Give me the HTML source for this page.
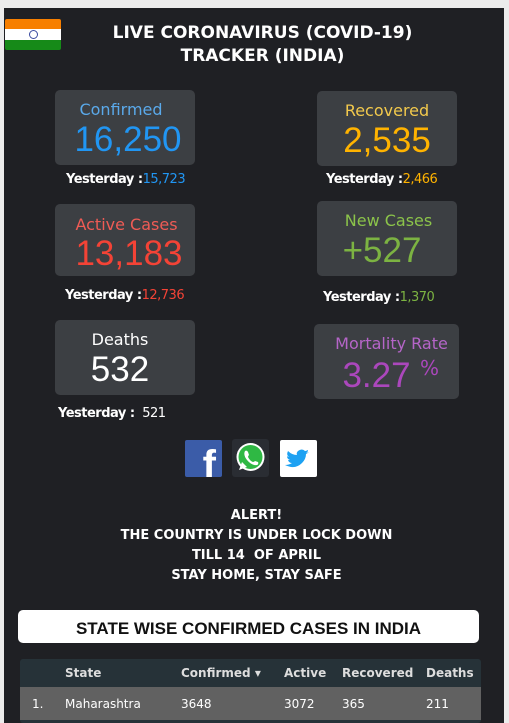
<!DOCTYPE html>
<html><head><meta charset="utf-8"><style>
body{margin:0;width:509px;height:723px;background:#ececec;overflow:hidden;font-family:"DejaVu Sans","Liberation Sans",sans-serif;}
#panel{position:absolute;left:4px;top:8px;width:500px;height:715px;background:#1f2024;}
.a{position:absolute;}
.box{position:absolute;background:#3c3f43;border-radius:5px;text-align:center;}
.lbl{position:absolute;left:0;right:0;font-size:16px;}
.num{position:absolute;left:0;right:0;font-size:35px;font-family:"Liberation Sans",sans-serif;}
.y{position:absolute;font-size:13px;color:#fff;font-weight:bold;letter-spacing:-0.5px;white-space:nowrap}
.y span{font-weight:normal}
.t{position:absolute;left:0;width:509px;text-align:center;color:#fff;font-weight:bold;}
th,td{text-align:left;padding:0;font-size:12px;}
</style></head><body>
<div id="panel"></div>
<div class="a" style="left:5px;top:19px;width:56px;height:31px;border-radius:2px;overflow:hidden">
<div style="height:10px;background:#f77f00"></div><div style="height:11px;background:#fff;position:relative"><div style="position:absolute;left:24px;top:1px;width:9px;height:9px;border:1px solid #3b4ba0;border-radius:50%;box-sizing:border-box"></div></div><div style="height:10px;background:#168a18"></div></div>
<div class="t" style="top:22px;font-size:17px;line-height:23px;left:8px">LIVE CORONAVIRUS (COVID-19)<br>TRACKER (INDIA)</div>

<div class="box" style="left:55px;top:90px;width:140px;height:75px">
<div class="lbl" style="top:10px;color:#5aa9ea;left:-8px">Confirmed</div><div class="num" style="top:30px;color:#2196f3;left:6px">16,250</div></div>
<div class="y" style="left:66px;top:172px">Yesterday :<span style="color:#2196f3">15,723</span></div>

<div class="box" style="left:317px;top:91px;width:140px;height:75px">
<div class="lbl" style="top:10px;color:#f2c94c">Recovered</div><div class="num" style="top:30px;color:#ffb300">2,535</div></div>
<div class="y" style="left:326px;top:172px">Yesterday :<span style="color:#ffb300">2,466</span></div>

<div class="box" style="left:55px;top:204px;width:140px;height:72px">
<div class="lbl" style="top:11px;color:#ef5b55;left:3px">Active Cases</div><div class="num" style="top:30px;color:#f44336;left:8px">13,183</div></div>
<div class="y" style="left:65px;top:288px">Yesterday :<span style="color:#f44336">12,736</span></div>

<div class="box" style="left:317px;top:201px;width:140px;height:75px">
<div class="lbl" style="top:10px;color:#8bc34a;left:3px">New Cases</div><div class="num" style="top:30px;color:#7cb342;left:-10px">+527</div></div>
<div class="y" style="left:323px;top:290px">Yesterday :<span style="color:#7cb342">1,370</span></div>

<div class="box" style="left:55px;top:320px;width:140px;height:75px">
<div class="lbl" style="top:10px;color:#fff;left:-10px">Deaths</div><div class="num" style="top:30px;color:#fff;left:-10px">532</div></div>
<div class="y" style="left:58px;top:406px">Yesterday : <span>&nbsp;521</span></div>

<div class="box" style="left:314px;top:324px;width:145px;height:75px">
<div class="lbl" style="top:10px;color:#b565c8;left:10px">Mortality Rate</div><div class="num" style="top:32px;color:#ab47bc;left:-20px">3.27</div><div class="a" style="left:106px;top:32px;font-size:20px;color:#ab47bc">%</div></div>

<div class="a" style="left:185px;top:440px;width:37px;height:37px;background:#3b5ca8;border-radius:2px;color:#fff;font:bold 40px 'Liberation Sans',sans-serif;text-align:right;line-height:50px;overflow:hidden;box-sizing:border-box;padding-right:6px">f</div>
<div class="a" style="left:232px;top:439px;width:37px;height:38px;background:#2a2d33;border-radius:3px">
<svg width="37" height="38"><circle cx="18.5" cy="18" r="14" fill="#fff"/><circle cx="18.5" cy="18" r="12" fill="#2fb844"/><path d="M7 31 L10 23 L15 28Z" fill="#fff"/><path d="M13 12 q2 -1 3 1 l1 3 q-1 1 -1 2 q2 4 5 5 q1 0 2 -1 l3 1 q1 2 -1 3 q-5 1 -10 -5 q-4 -5 -2 -9z" fill="#fff"/></svg></div>
<div class="a" style="left:280px;top:440px;width:37px;height:37px;background:#fff;border-radius:2px">
<svg width="37" height="37"><path d="M29 12 q-2 1 -3 1 q2 -1 2 -3 q-2 1 -3 1 q-3 -3 -7 0 q-2 2 -1 4 q-5 0 -9 -4 q-2 4 1 6 q-1 0 -2 -1 q0 3 3 4 q-1 0 -2 0 q1 3 4 3 q-3 2 -7 2 q10 5 17 -2 q4 -4 4 -9 q2 -1 3 -2z" fill="#1da1f2"/></svg></div>

<div class="t" style="top:506px;font-size:13px;line-height:20px;left:2px">ALERT!<br>THE COUNTRY IS UNDER LOCK DOWN<br>TILL 14&nbsp; OF APRIL<br>STAY HOME, STAY SAFE</div>

<div class="a" style="left:18px;top:610px;width:461px;height:33px;background:#fff;border-radius:5px;text-align:center;font:bold 17px 'Liberation Sans',sans-serif;line-height:38px;color:#111">STATE WISE CONFIRMED CASES IN INDIA</div>

<div class="a" style="left:20px;top:659px;width:461px;height:64px;background:#263238;border-radius:3px;overflow:hidden">
<table style="border-collapse:collapse;width:461px;color:#fff">
<tr style="height:28px;font-weight:bold;font-size:12px;color:#ddd"><th style="width:45px"></th><th style="width:116px">State</th><th style="width:103px">Confirmed &#9662;</th><th style="width:58px">Active</th><th style="width:84px">Recovered</th><th>Deaths</th></tr>
<tr style="height:33px;background:#616161;font-size:13px"><td style="padding-left:12px">1.</td><td>Maharashtra</td><td>3648</td><td>3072</td><td>365</td><td>211</td></tr>
</table></div>
</body></html>
